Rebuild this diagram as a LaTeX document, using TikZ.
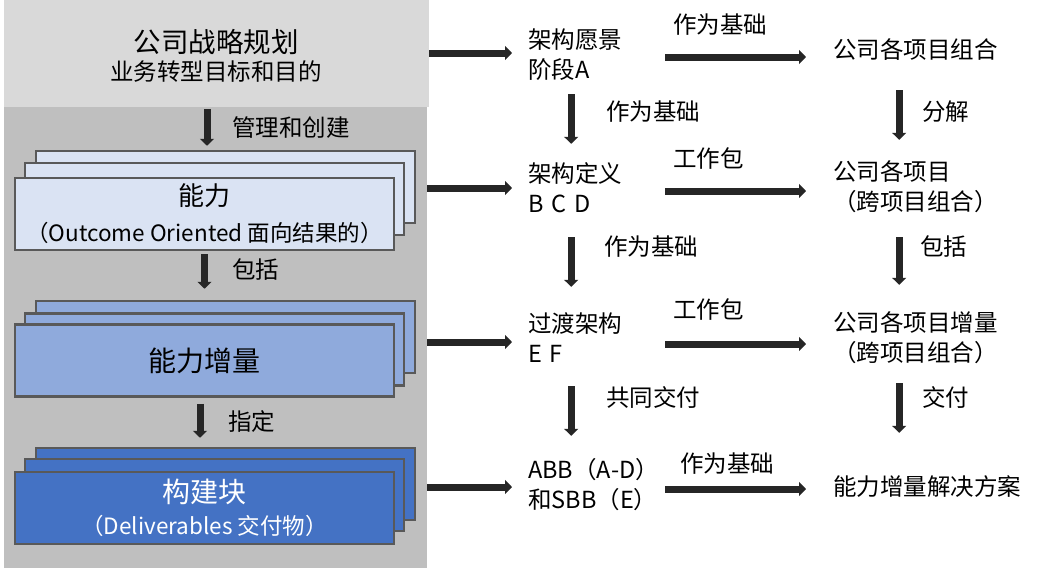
\documentclass[tikz,border=0pt]{standalone}
\usepackage{fontspec}
\setmainfont{Noto Sans CJK SC}
\usetikzlibrary{arrows.meta}
\definecolor{lgray}{HTML}{D9D9D9}
\definecolor{dgray}{HTML}{BFBFBF}
\definecolor{capfill}{HTML}{DAE3F3}
\definecolor{incfill}{HTML}{8FAADC}
\definecolor{bbfill}{HTML}{4472C4}
\definecolor{edgegray}{HTML}{595959}
\definecolor{arr}{HTML}{262626}
\begin{document}
\begin{tikzpicture}[x=1pt,y=-1pt,
  card/.style={draw=edgegray, line width=2.5pt, minimum width=379pt, minimum height=72pt, inner sep=0pt, align=center},
  arrowline/.style={draw=arr, line width=7pt, -{Triangle[length=7pt,width=14pt]}},
  txt/.style={font=\fontsize{23.5pt}{30pt}\selectfont, inner sep=0pt},
  col/.style={txt, anchor=west, align=left, minimum height=60pt, text width=#1},
  lbl/.style={txt, anchor=west}]
\useasboundingbox (0,0) rectangle (1044,570);
% left panel backgrounds
\node[fill=lgray, minimum width=425pt, minimum height=107pt, inner sep=0pt] (top) at (216.5,53.5) {};
\node[fill=dgray, minimum width=423pt, minimum height=461pt, inner sep=0pt] (panel) at (215.5,337.5) {};
\node[inner sep=0pt, font=\fontsize{27.5pt}{33pt}\selectfont] (title) at (216,42) {公司战略规划};
\node[txt] (subtitle) at (216,72) {业务转型目标和目的};
% capability stack
\node[card, fill=capfill] (cap3) at (225.5,187) {};
\node[card, fill=capfill] (cap2) at (214.5,199) {};
\node[card, fill=capfill, font=\fontsize{22.5pt}{36pt}\selectfont] (cap) at (204.5,214) {{\fontsize{26pt}{36pt}\selectfont 能力}\\（Outcome Oriented 面向结果的）};
% increment stack
\node[card, fill=incfill] (inc3) at (225.5,337) {};
\node[card, fill=incfill] (inc2) at (214.5,349.5) {};
\node[card, fill=incfill, font=\fontsize{28pt}{34pt}\selectfont] (inc) at (204.5,360.5) {能力增量};
% building block stack
\node[card, fill=bbfill] (bb3) at (225.5,484) {};
\node[card, fill=bbfill] (bb2) at (214.5,495) {};
\node[card, fill=bbfill, text=white, font=\fontsize{22.5pt}{32pt}\selectfont] (bb) at (204.5,508) {{\fontsize{28pt}{32pt}\selectfont 构建块}\\（Deliverables 交付物）};
% left arrows
\draw[arrowline, shorten <=2pt, shorten >=4pt] ([xshift=-9.5pt]top.south) -- ([xshift=-9.5pt]top.south |- cap3.north);
\draw[arrowline, shorten <=3pt, shorten >=11pt] (cap.south) -- (cap.south |- inc3.north);
\draw[arrowline, shorten <=6pt, shorten >=9pt] ([xshift=-4.5pt]inc.south) -- ([xshift=-4.5pt]inc.south |- bb3.north);
\node[lbl] (l1) at (232,128) {管理和创建};
\node[lbl] (l2) at (232,270) {包括};
\node[lbl] (l3) at (228,422) {指定};
% right columns
\node[col=130pt] (a1) at (528,55) {架构愿景\\阶段A};
\node[col=130pt] (a2) at (528,188) {架构定义\\B C D};
\node[col=130pt] (a3) at (528,338) {过渡架构\\E F};
\node[col=130pt] (a4) at (528,485) {\mbox{ABB（A-D）}\\\mbox{和SBB（E）}};
\node[col=200pt] (b1) at (833,50) {公司各项目组合};
\node[col=200pt] (b2) at (833,187) {公司各项目\\（跨项目组合）};
\node[col=200pt] (b3) at (833,338) {公司各项目增量\\（跨项目组合）};
\node[col=200pt] (b4) at (833,487) {能力增量解决方案};
% arrows from left panel
\draw[arrowline, shorten >=16pt] ([yshift=2pt]top.east |- a1.west) -- ([yshift=2pt]a1.west);
\draw[arrowline, shorten >=16pt] (panel.east |- a2.west) -- (a2.west);
\draw[arrowline, shorten >=16pt] ([yshift=-4pt]panel.east |- a3.west) -- ([yshift=-4pt]a3.west);
\draw[arrowline, shorten >=16pt] ([yshift=-2pt]panel.east |- a4.west) -- ([yshift=-2pt]a4.west);
% horizontal arrows
\draw[arrowline, shorten <=7pt, shorten >=27pt] ([yshift=-2pt]a1.east) -- ([yshift=-2pt]a1.east -| b1.west);
\draw[arrowline, shorten <=7pt, shorten >=27pt] ([yshift=-3pt]a2.east) -- ([yshift=-3pt]a2.east -| b2.west);
\draw[arrowline, shorten <=7pt, shorten >=27pt] ([yshift=-6pt]a3.east) -- ([yshift=-6pt]a3.east -| b3.west);
\draw[arrowline, shorten <=7pt, shorten >=27pt] ([yshift=-4pt]a4.east) -- ([yshift=-4pt]a4.east -| b4.west);
% vertical arrows
\draw[arrowline, shorten <=9pt, shorten >=14pt] ([xshift=-22pt]a1.south) -- ([xshift=-22pt]a2.north);
\draw[arrowline, shorten <=19pt, shorten >=21pt] ([xshift=-22pt]a2.south) -- ([xshift=-22pt]a3.north);
\draw[arrowline, shorten <=18pt, shorten >=19pt] ([xshift=-22pt]a3.south) -- ([xshift=-22pt]a4.north);
\draw[arrowline, shorten <=10pt, shorten >=17pt] ([xshift=-34pt]b1.south) -- ([xshift=-34pt]b2.north);
\draw[arrowline, shorten <=20pt, shorten >=23pt] ([xshift=-34pt]b2.south) -- ([xshift=-34pt]b3.north);
\draw[arrowline, shorten <=15pt, shorten >=24pt] ([xshift=-34pt]b3.south) -- ([xshift=-34pt]b4.north);
% labels
\node[lbl] (r1) at (673,25) {作为基础};
\node[lbl] (r2) at (606,112) {作为基础};
\node[lbl] (r3) at (922,112) {分解};
\node[lbl] (r4) at (673,158) {工作包};
\node[lbl] (r5) at (604,247) {作为基础};
\node[lbl] (r6) at (920,247) {包括};
\node[lbl] (r7) at (673,309) {工作包};
\node[lbl] (r8) at (606,397) {共同交付};
\node[lbl] (r9) at (922,397) {交付};
\node[lbl] (r10) at (680,464) {作为基础};
\end{tikzpicture}
\end{document}
